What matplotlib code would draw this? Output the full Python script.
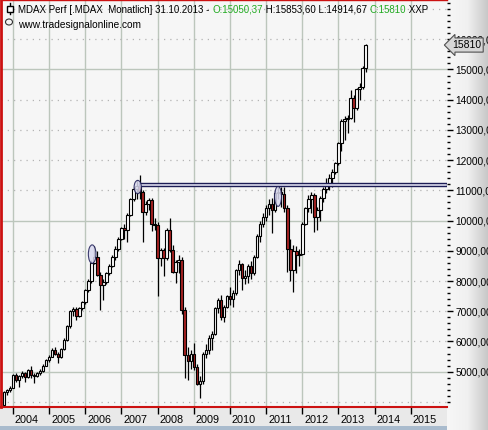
import matplotlib
matplotlib.use("Agg")
import matplotlib.pyplot as plt
import matplotlib.patches as patches
import matplotlib.transforms as mtransforms
from matplotlib.ticker import MultipleLocator
import numpy as np
import pandas as pd

plt.rcParams['font.family'] = ['Liberation Sans', 'DejaVu Sans']

# MDAX monthly candles, Oct 2003 .. Oct 2013
opens = [
    3900, 4320, 4380,
    4470, 4880, 4740, 4850, 4960, 4820, 5060, 4880, 4850, 4970, 5020, 5200,
    5390, 5500, 5720, 5600, 5480, 5750, 6050, 6500, 7000, 7080, 6850, 7100,
    7300, 7700, 8000, 8600, 8800, 8200, 7880, 7980, 8250, 8500, 8800, 9050,
    9400, 9750, 9690, 10200, 10700, 11050, 11150, 10950, 10300, 10550, 10680, 9870,
    9865, 8750, 9030, 8750, 9690, 9030, 8310, 8640, 8700, 7050, 5550, 5350,
    5600, 5150, 4600, 4700, 5600, 5720, 6100, 6250, 7100, 7370, 6800, 7150,
    7500, 7400, 7600, 8350, 8550, 8100, 8150, 8500, 8250, 8800, 9500, 9900,
    10130, 10400, 10550, 10350, 10900, 10950, 10880, 10400, 9050, 8370, 9000, 8850,
    8900, 9900, 10400, 10700, 10850, 10120, 10350, 10750, 11050, 11200, 11400, 11600,
    11914, 12560, 13300, 13350, 13400, 14050, 13720, 14350, 14420, 15050.37,
]
highs = [
    4350, 4420, 4520,
    4920, 4960, 4900, 5010, 5000, 5100, 5180, 4950, 5000, 5100, 5250, 5420,
    5550, 5780, 5800, 5650, 5780, 6100, 6550, 7050, 7150, 7150, 7150, 7350,
    7750, 8050, 8700, 9150, 9000, 8300, 8050, 8300, 8550, 8850, 9150, 9450,
    9800, 9900, 10250, 10750, 11100, 11350, 11510, 11000, 10650, 10750, 10750, 10100,
    9950, 9100, 9100, 9750, 10080, 9200, 8700, 8850, 8800, 7150, 5800, 5700,
    5950, 5250, 4850, 5650, 5900, 6200, 6350, 7150, 7450, 7550, 7200, 7550,
    7800, 7700, 8400, 8700, 8600, 8350, 8550, 8650, 8850, 9550, 10000, 10250,
    10500, 10700, 10750, 11000, 11260, 11100, 11100, 10500, 9400, 9200, 9150, 9050,
    9950, 10450, 10850, 10950, 10910, 10450, 10800, 11100, 11400, 11550, 11700, 11950,
    12600, 13350, 13450, 13500, 14330, 14150, 14400, 14550, 15100, 15853.60,
]
lows = [
    3880, 4230, 4340,
    4450, 4650, 4480, 4780, 4650, 4790, 4800, 4620, 4820, 4900, 4990, 5180,
    5330, 5480, 5550, 5300, 5450, 5700, 6000, 6450, 6850, 6700, 6800, 7050,
    7250, 7650, 7950, 8550, 8150, 7050, 7370, 7900, 8200, 8450, 8700, 9000,
    9350, 9400, 9300, 10150, 10650, 10700, 10700, 9300, 10200, 10350, 9650, 9700,
    7500, 8500, 8150, 8700, 8950, 8250, 7950, 8250, 6900, 4800, 4720, 5100,
    5050, 4550, 4130, 4600, 5450, 5600, 5700, 6200, 6950, 6700, 6650, 7100,
    7200, 7150, 7550, 8200, 7700, 7900, 7950, 8050, 8200, 8750, 9300, 9800,
    10000, 10200, 9600, 10300, 10700, 10450, 10300, 8300, 8000, 7650, 8250, 8500,
    8850, 9850, 10300, 10250, 9620, 9700, 10000, 10600, 10900, 11000, 11100, 11550,
    11850, 12300, 12670, 12900, 13350, 13250, 13650, 14000, 14350, 14914.67,
]
closes = [
    4320, 4380, 4470,
    4880, 4740, 4850, 4960, 4820, 5060, 4880, 4850, 4970, 5020, 5200, 5390,
    5500, 5720, 5600, 5480, 5750, 6050, 6500, 7000, 7080, 6850, 7100, 7300,
    7700, 8000, 8600, 8800, 8200, 7880, 7980, 8250, 8500, 8800, 9050, 9400,
    9750, 9690, 10200, 10700, 11050, 11150, 10950, 10300, 10550, 10680, 9870, 9865,
    8750, 9030, 8750, 9690, 9030, 8310, 8640, 8700, 7050, 5550, 5350, 5600,
    5150, 4600, 4700, 5600, 5720, 6100, 6250, 7100, 7370, 6800, 7150, 7500,
    7400, 7600, 8350, 8550, 8100, 8150, 8500, 8250, 8800, 9500, 9900, 10130,
    10400, 10550, 10350, 10900, 10950, 10880, 10400, 9050, 8370, 9000, 8850, 8900,
    9900, 10400, 10700, 10850, 10120, 10350, 10750, 11050, 11200, 11400, 11600, 11914,
    12560, 13300, 13350, 13400, 14050, 13720, 14350, 14420, 15050, 15810,
]
year_ticks = list(range(2004, 2016))
price_ticks = list(range(5000, 17000, 1000))
resistance = (11150, 11260)

months = pd.date_range("2003-10-01", periods=len(closes), freq="MS")
x = np.asarray(months.year + (months.month - 1) / 12.0, dtype=float)
o = np.array(opens)
h = np.array(highs)
l = np.array(lows)
c = np.array(closes)

W, H = 489, 430
fig = plt.figure(figsize=(W / 100, H / 100), dpi=100)
fig.patch.set_facecolor('white')

# grey gradient behind the price scale
gax = fig.add_axes([447 / W, 0, 1 - 447 / W, 1], zorder=0)
grad = np.linspace(0, 1, 100).reshape(1, -1)
cmap = matplotlib.colors.LinearSegmentedColormap.from_list('g', ['#f7f7f7', '#f0f0f0', '#c6c6c6'])
gax.imshow(grad, aspect='auto', cmap=cmap, extent=[0, 1, 0, 1])
gax.set_axis_off()

# date band at the bottom
fig.patches.append(patches.Rectangle((0, 0), 447 / W, 23 / H, transform=fig.transFigure,
                                     facecolor='#e9e9e9', edgecolor='none', zorder=0))
fig.patches.append(patches.Rectangle((0, 0), 447 / W, 4 / H, transform=fig.transFigure,
                                     facecolor='#a9bbcd', edgecolor='none', zorder=0))

ax = fig.add_axes([1 / W, 23 / H, 446 / W, 407 / H], zorder=1)
ax.set_facecolor('#f6f6f6')
ax.set_xlim(2003.67, 2016.0)
ax.set_ylim(3830, 17300)

# grid
for yr in year_ticks:
    ax.axvline(yr, color='#bcc6bc', lw=1, zorder=1)
for v in range(4000, 18000, 1000):
    if v % 5000 == 0:
        ax.axhline(v, color='#bcc6bc', lw=1, zorder=1)
    else:
        ax.axhline(v, color='#b4b4b4', lw=0.9, ls=(0, (1, 4)), zorder=1)

# candles
up = c >= o
ax.vlines(x, l, h, color='black', lw=0.9, zorder=3)
bottom = np.minimum(o, c)
height = np.maximum(np.abs(c - o), 20)
ax.bar(x[up], height[up], bottom=bottom[up], width=0.07, color='white',
       edgecolor='black', lw=0.8, zorder=4)
ax.bar(x[~up], height[~up], bottom=bottom[~up], width=0.07, color='#a52121',
       edgecolor='black', lw=0.8, zorder=4)

# drawings: resistance band and ellipses
navy = '#1c1c55'
ax.add_patch(patches.Rectangle((2007.48, resistance[0]), 2016.0 - 2007.48,
                               resistance[1] - resistance[0], facecolor='#e2e2f2',
                               edgecolor=navy, lw=1, zorder=6))
for cx, cy, ew, eh in [(2006.19, 8890, 0.21, 610), (2007.45, 11110, 0.20, 440),
                       (2011.33, 10800, 0.19, 660)]:
    ax.add_patch(patches.Ellipse((cx, cy), ew, eh, facecolor='#d9d9ef', alpha=0.85,
                                 edgecolor=navy, lw=0.8, zorder=6))

# spines
for s in ['left', 'bottom', 'top']:
    ax.spines[s].set_color('#cc1111')
ax.spines['left'].set_linewidth(2)
ax.spines['bottom'].set_linewidth(1.5)
ax.spines['top'].set_linewidth(1)
ax.spines['right'].set_visible(False)

# price scale
ax.yaxis.tick_right()
ax.set_yticks(price_ticks)
ax.set_yticklabels([f"{v:.2f}".replace('.', ',') for v in price_ticks])
ax.yaxis.set_minor_locator(MultipleLocator(200))
ax.tick_params(axis='y', which='major', length=4, width=1, pad=2, labelsize=7.3, colors='black')
ax.tick_params(axis='y', which='minor', length=2, width=1, colors='black')

# year axis
ax.set_xticks(year_ticks)
ax.set_xticklabels([str(y) for y in year_ticks])
ax.tick_params(axis='x', which='major', length=5, width=1, pad=1, labelsize=7.8, colors='black')
offset = mtransforms.ScaledTranslation(2 / 100, 0, fig.dpi_scale_trans)
for lab in ax.get_xticklabels():
    lab.set_horizontalalignment('left')
    lab.set_transform(lab.get_transform() + offset)

# last price marker
blend = mtransforms.blended_transform_factory(ax.transAxes, ax.transData)
ax.annotate("15810", xy=(1, closes[-1]), xycoords=blend, xytext=(5, 0),
            textcoords='offset pixels', ha='left', va='center', fontsize=7.5,
            bbox=dict(boxstyle='larrow,pad=0.2', fc='#d6d6d6', ec='#505050', lw=0.8),
            annotation_clip=False, zorder=10)

# header
green = '#22aa22'
segments = [("MDAX Perf [.MDAX  Monatlich] 31.10.2013 - ", 'black'), ("O:15050,37", green),
            (" H:15853,60 L:14914,67 ", 'black'), ("C:15810", green), (" XXP", 'black')]
t = fig.text(18 / W, 1 - 13 / H, segments[0][0], color=segments[0][1], fontsize=7.05, zorder=10)
for txt, col in segments[1:]:
    t = ax.annotate(txt, xy=(1, 0), xycoords=t, va='bottom', ha='left', color=col,
                    fontsize=7.05, zorder=10, annotation_clip=False)
fig.text(18 / W, 1 - 28 / H, "www.tradesignalonline.com", color='black', fontsize=7.3, zorder=10)

# small icons in the header
fig.lines.append(plt.Line2D([10 / W, 10 / W], [1 - 14 / H, 1 - 3 / H], transform=fig.transFigure,
                            color='black', lw=1))
fig.patches.append(patches.Rectangle((7.5 / W, 1 - 11.5 / H), 5 / W, 6 / H, transform=fig.transFigure,
                                     facecolor='white', edgecolor='black', lw=1, zorder=10))
fig.patches.append(patches.Ellipse((9 / W, 1 - 22 / H), 7 / W, 6 / H, transform=fig.transFigure,
                                   facecolor='none', edgecolor='#333333', lw=0.8, zorder=10))

fig.savefig("out.png", dpi=100, facecolor=fig.get_facecolor())
